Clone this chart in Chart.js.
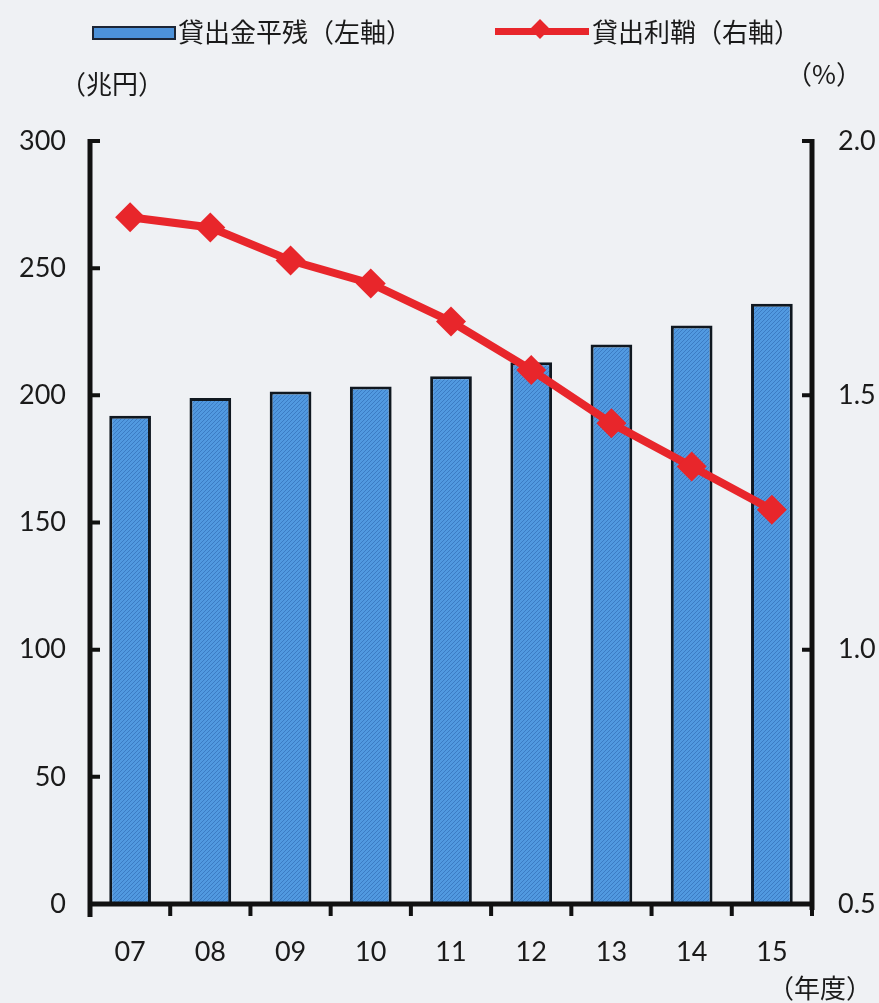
<!DOCTYPE html>
<html lang="ja">
<head>
<meta charset="utf-8">
<script src="https://cdn.jsdelivr.net/npm/chart.js@4"></script>
<style>
  html, body { margin: 0; padding: 0; background: #eff1f4; }
  #wrap { position: relative; width: 879px; height: 1003px; font-family: Lato, "Noto Sans CJK JP", sans-serif; color: #1a1a1a; }
  #chart { position: absolute; left: 0; top: 0; }
  .txt { position: absolute; font-size: 26px; line-height: 1; white-space: nowrap; font-family: "Noto Sans CJK JP", sans-serif; }
  .swatch-bar { position: absolute; left: 92px; top: 26px; width: 80px; height: 10px; background: #4d92da; border: 2px solid #1c2535; }
  .swatch-line { position: absolute; left: 495px; top: 28px; width: 94px; height: 7px; background: #e8262b; }
  .swatch-dot { position: absolute; left: 533px; top: 22px; width: 14px; height: 14px; background: #e8262b; transform: rotate(45deg); }
</style>
</head>
<body>
<div id="wrap">
  <canvas id="chart" width="879" height="1003"></canvas>
  <div class="swatch-bar"></div>
  <div class="txt" style="left:178px; top:18px;">貸出金平残（左軸）</div>
  <div class="swatch-line"></div>
  <div class="swatch-dot"></div>
  <div class="txt" style="left:592px; top:18px;">貸出利鞘（右軸）</div>
  <div class="txt" style="left:60px; top:70px;">（兆円）</div>
  <div class="txt" style="left:786px; top:60px;">（%）</div>
  <div class="txt" style="left:768px; top:974px;">（年度）</div>
</div>
<script>
// fiscal years and the two series
const years = ['07', '08', '09', '10', '11', '12', '13', '14', '15'];
const loanBalance = [192, 199, 201.5, 203.5, 207.5, 213, 220, 227.5, 236];   // 兆円
const loanSpread = [1.85, 1.83, 1.765, 1.72, 1.645, 1.55, 1.445, 1.36, 1.275]; // %

const leftTicks = [0, 50, 100, 150, 200, 250, 300];
const rightTicks = [0.5, 1.0, 1.5, 2.0];

// diagonal hatch used for the bars
function hatchPattern() {
  const c = document.createElement('canvas');
  c.width = 4; c.height = 4;
  const g = c.getContext('2d');
  g.fillStyle = '#5199e0';
  g.fillRect(0, 0, 4, 4);
  g.strokeStyle = '#3c7cc4';
  g.lineWidth = 1;
  g.beginPath();
  g.moveTo(0, 4); g.lineTo(4, 0);
  g.moveTo(-1, 1); g.lineTo(1, -1);
  g.moveTo(3, 5); g.lineTo(5, 3);
  g.stroke();
  return g.createPattern(c, 'repeat');
}

// thick black axes with inward ticks on the value axes, outward on the year axis
const axisFrame = {
  id: 'axisFrame',
  afterDatasetsDraw(chart) {
    const { ctx, chartArea: a, scales } = chart;
    ctx.save();
    ctx.strokeStyle = '#111';
    ctx.lineWidth = 5;
    ctx.beginPath();
    ctx.moveTo(a.left, a.top - 2); ctx.lineTo(a.left, a.bottom + 13);
    ctx.moveTo(a.right, a.top - 2); ctx.lineTo(a.right, a.bottom + 6);
    ctx.moveTo(a.left, a.bottom); ctx.lineTo(a.right, a.bottom);
    ctx.stroke();

    ctx.lineWidth = 4;
    ctx.beginPath();
    leftTicks.forEach(v => {
      const y = scales.y.getPixelForValue(v);
      ctx.moveTo(a.left, y); ctx.lineTo(a.left + 10, y);
    });
    rightTicks.forEach(v => {
      const y = scales.y1.getPixelForValue(v);
      ctx.moveTo(a.right, y); ctx.lineTo(a.right - 10, y);
    });
    for (let i = 0; i <= years.length; i++) {
      const x = scales.x.getPixelForValue(i - 0.5);
      ctx.moveTo(x, a.bottom); ctx.lineTo(x, a.bottom + 12);
    }
    ctx.stroke();
    ctx.restore();
  }
};

const tickFont = { family: 'Lato, "Noto Sans CJK JP", sans-serif', size: 27 };

new Chart(document.getElementById('chart'), {
  data: {
    labels: years,
    datasets: [
      {
        type: 'line',
        label: '貸出利鞘（右軸）',
        data: loanSpread,
        yAxisID: 'y1',
        borderColor: '#e8262b',
        backgroundColor: '#e8262b',
        borderWidth: 8,
        pointStyle: 'rectRot',
        pointRadius: 15,
        pointBorderWidth: 0,
        tension: 0,
        order: 0
      },
      {
        type: 'bar',
        label: '貸出金平残（左軸）',
        data: loanBalance,
        yAxisID: 'y',
        backgroundColor: hatchPattern(),
        borderColor: '#101820',
        borderWidth: 3,
        categoryPercentage: 1,
        barPercentage: 0.52,
        order: 1
      }
    ]
  },
  options: {
    responsive: false,
    animation: false,
    layout: { padding: { top: 141, left: 0, right: 0, bottom: 0 } },
    plugins: {
      legend: { display: false },
      tooltip: { enabled: false }
    },
    scales: {
      x: {
        grid: { display: false, drawTicks: false },
        border: { display: false },
        ticks: { font: tickFont, color: '#1a1a1a', padding: 32 },
        afterFit(s) { s.height = 99; }
      },
      y: {
        position: 'left',
        min: 0, max: 300,
        grid: { display: false, drawTicks: false },
        border: { display: false },
        ticks: { font: tickFont, color: '#1a1a1a', padding: 24, stepSize: 50 },
        afterFit(s) { s.width = 90; }
      },
      y1: {
        position: 'right',
        min: 0.5, max: 2.0,
        grid: { display: false, drawTicks: false },
        border: { display: false },
        ticks: {
          font: tickFont, color: '#1a1a1a', padding: 26, stepSize: 0.5,
          callback: v => v.toFixed(1)
        },
        afterFit(s) { s.width = 67; }
      }
    }
  },
  plugins: [axisFrame]
});
</script>
</body>
</html>
